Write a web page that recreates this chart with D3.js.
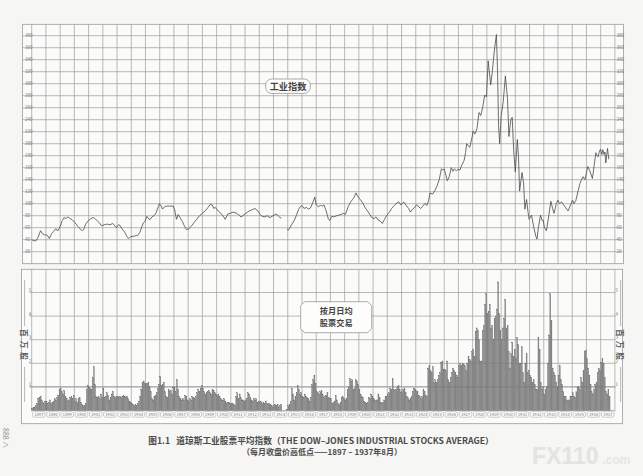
<!DOCTYPE html>
<html>
<head>
<meta charset="utf-8">
<script src="https://cdn.jsdelivr.net/npm/d3@7"></script>
<style>
body { margin: 0; background: #f6f6f4; }
svg { display: block; }
</style>
</head>
<body>
<div id="chart"></div>
<script>
var svgWidth = 643;
var svgHeight = 476;

// year labels along the bottom
var yearLabels = [1897, 1898, 1899, 1900, 1901, 1902, 1903, 1904, 1905, 1906, 1907, 1908, 1909, 1910,
  1911, 1912, 1913, 1914, 1915, 1916, 1917, 1918, 1919, 1920, 1921, 1922, 1923, 1924, 1925, 1926,
  1927, 1928, 1929, 1930, 1931, 1932, 1933, 1934, 1935, 1936, 1937];

var priceTicks = [20, 40, 60, 80, 100, 120, 140, 160, 180, 200, 220, 240, 260, 280, 300, 320, 340, 360, 380];
var volumeTicks = [1, 2, 3, 4, 5];

// monthly high / low points of the industrial average (decimal year, index value)
var indexDates = [
  1897.00, 1897.12, 1897.30, 1897.45, 1897.62, 1897.75, 1897.90, 1898.05, 1898.15, 1898.24,
  1898.40, 1898.55, 1898.68, 1898.85, 1899.00, 1899.15, 1899.28, 1899.40, 1899.52, 1899.65,
  1899.85, 1900.05, 1900.25, 1900.40, 1900.55, 1900.65, 1900.80, 1900.95, 1901.15, 1901.35,
  1901.48, 1901.60, 1901.75, 1901.92, 1902.10, 1902.30, 1902.50, 1902.70, 1902.85, 1902.95,
  1903.10, 1903.20, 1903.35, 1903.55, 1903.70, 1903.80, 1903.95, 1904.20, 1904.45, 1904.60,
  1904.75, 1904.85, 1904.95, 1905.10, 1905.20, 1905.30, 1905.45, 1905.60, 1905.75, 1905.90,
  1905.98, 1906.10, 1906.20, 1906.35, 1906.50, 1906.70, 1906.95, 1907.05, 1907.18, 1907.30,
  1907.45, 1907.60, 1907.75, 1907.88, 1908.05, 1908.20, 1908.40, 1908.60, 1908.80, 1909.00,
  1909.20, 1909.40, 1909.55, 1909.68, 1909.80, 1909.90, 1910.10, 1910.30, 1910.50, 1910.60,
  1910.80, 1910.95, 1911.15, 1911.40, 1911.55, 1911.70, 1911.85, 1912.05, 1912.30, 1912.50,
  1912.70, 1912.90, 1913.05, 1913.20, 1913.40, 1913.55, 1913.75, 1913.90, 1914.05, 1914.20,
  1914.35, 1914.45, 1914.55, 1914.75,
  1914.95, 1915.05, 1915.25, 1915.45, 1915.60, 1915.75, 1915.88, 1916.00, 1916.15, 1916.30,
  1916.45, 1916.60, 1916.80, 1916.90, 1917.00, 1917.15, 1917.30, 1917.45, 1917.55, 1917.70,
  1917.85, 1917.95, 1918.10, 1918.25, 1918.45, 1918.60, 1918.75, 1918.90, 1919.05, 1919.25,
  1919.40, 1919.55, 1919.65, 1919.80, 1919.90, 1920.10, 1920.30, 1920.45, 1920.60, 1920.75,
  1920.90, 1921.05, 1921.20, 1921.35, 1921.55, 1921.65, 1921.80, 1921.95, 1922.15, 1922.30,
  1922.50, 1922.65, 1922.80, 1922.95, 1923.15, 1923.30, 1923.50, 1923.62, 1923.75, 1923.90,
  1924.05, 1924.20, 1924.35, 1924.50, 1924.65, 1924.78, 1924.90, 1925.00, 1925.18, 1925.35,
  1925.50, 1925.65, 1925.80, 1925.90, 1926.00, 1926.12, 1926.22, 1926.35, 1926.50, 1926.62,
  1926.72, 1926.85, 1926.95, 1927.10, 1927.25, 1927.40, 1927.50, 1927.58, 1927.70, 1927.80,
  1927.95, 1928.03, 1928.15, 1928.30, 1928.45, 1928.57, 1928.70, 1928.85, 1928.97, 1929.09,
  1929.18, 1929.27, 1929.38, 1929.46, 1929.55, 1929.67, 1929.75, 1929.82, 1929.90, 1930.00,
  1930.15, 1930.30, 1930.45, 1930.55, 1930.68, 1930.78, 1930.88, 1931.00, 1931.14, 1931.22,
  1931.30, 1931.47, 1931.58, 1931.67, 1931.79, 1931.90, 1931.97, 1932.14, 1932.30, 1932.45,
  1932.52, 1932.62, 1932.77, 1932.88, 1932.95, 1933.05, 1933.19, 1933.35, 1933.50, 1933.62,
  1933.72, 1933.88, 1934.00, 1934.10, 1934.25, 1934.40, 1934.55, 1934.71, 1934.85, 1935.02,
  1935.12, 1935.25, 1935.40, 1935.55, 1935.62, 1935.76, 1935.90, 1936.00, 1936.10, 1936.25,
  1936.42, 1936.55, 1936.66, 1936.75, 1936.82, 1936.90, 1936.98, 1937.08, 1937.15, 1937.24,
  1937.30, 1937.36, 1937.48, 1937.57
];
var indexValues = [
  40, 38.5, 38, 44, 55, 50, 48, 48, 46, 42,
  50, 54, 58, 55, 62, 72, 77, 75, 78, 76,
  73, 68, 62, 58, 55, 57, 66, 71, 75, 77,
  74, 72, 68, 63, 65, 66, 65, 67, 63, 60,
  65, 64, 58, 52, 45, 42, 45, 46, 47, 52,
  62, 68, 70, 79, 76, 73, 78, 80, 85, 95,
  100, 96, 91, 95, 96, 96, 96, 90, 74, 82,
  76, 70, 62, 57, 58, 62, 68, 74, 80, 84,
  88, 94, 99, 98, 92, 94, 88, 84, 78, 74,
  83, 84, 86, 84, 82, 78, 80, 84, 88, 90,
  92, 88, 82, 79, 78, 80, 77, 79, 81, 83,
  79, 77, 76, null,
  58, 56, 64, 72, 80, 90, 95, 97, 92, 94,
  91, 93, 104, 111, 98, 95, 97, 96, 98, 88,
  75, 72, 79, 78, 80, 81, 82, 84, 82, 95,
  102, 107, 110, 118, 113, 107, 100, 93, 88, 83,
  77, 75, 78, 73, 70, 67, 74, 80, 86, 92,
  97, 101, 103, 98, 103, 98, 92, 86, 90, 93,
  98, 95, 92, 96, 100.5, 97, 105, 118, 116, 122,
  130, 140, 158, 156, 158, 147, 138, 145, 160, 154,
  158, 155, 157, 156, 165, 172, 185, 200, 196, 194,
  210, 221, 216, 225, 252, 247, 260, 281, 278, 338,
  318, 298, 320, 340, 360, 382, 320, 230, 200, 245,
  270, 313, 275, 212, 240, 244, 190, 153, 207, 180,
  121, 152, 135, 91, 107, 85, 74, 81, 60, 45,
  41, 60, 81, 72, 73, 60, 55, 80, 104, 92,
  84, 100, 106, 100, 103, 98, 93, 88, 96, 106,
  100, 105, 120, 134, 138, 145, 140, 152, 162, 154,
  142, 165, 185, 180, 178, 186, 191, 182, 190, 182,
  186, 168, 192, 174
];

// average daily shares traded, millions, one value per month from Jan 1897
var monthlyVolume = [
  0.10, 0.12, 0.15, 0.20, 0.30, 0.50, 0.55, 0.60, 0.45, 0.35, 0.30, 0.40, // 1897
  0.40, 0.30, 0.35, 0.45, 0.30, 0.35, 0.40, 0.50, 0.45, 0.55, 0.65, 0.90, // 1898
  0.95, 0.80, 0.70, 0.85, 0.60, 0.50, 0.40, 0.45, 0.55, 0.60, 0.50, 0.65, // 1899
  0.40, 0.50, 0.35, 0.50, 0.55, 0.35, 0.25, 0.20, 0.20, 0.30, 0.90, 1.05, // 1900
  1.00, 0.95, 0.90, 1.40, 1.85, 1.10, 0.60, 0.55, 0.60, 0.50, 0.70, 0.55, // 1901
  0.95, 0.55, 0.60, 0.75, 0.65, 0.45, 0.55, 0.70, 0.80, 0.60, 0.55, 0.60, // 1902
  0.60, 0.55, 0.60, 0.55, 0.60, 0.65, 0.60, 0.55, 0.60, 0.50, 0.40, 0.35, // 1903
  0.30, 0.25, 0.20, 0.25, 0.20, 0.30, 0.40, 0.60, 0.90, 1.20, 1.25, 1.15, // 1904
  1.10, 1.15, 1.20, 1.00, 0.80, 0.50, 0.45, 0.60, 0.65, 0.75, 0.95, 1.10, // 1905
  1.45, 1.05, 1.10, 1.20, 0.80, 0.60, 0.55, 0.90, 0.80, 0.85, 0.70, 1.00, // 1906
  1.00, 0.80, 1.30, 0.90, 0.60, 0.50, 0.45, 0.50, 0.45, 0.65, 0.60, 0.45, // 1907
  0.40, 0.50, 0.45, 0.60, 0.55, 0.50, 0.60, 0.75, 0.90, 0.80, 0.95, 1.05, // 1908
  0.95, 0.80, 0.70, 0.75, 0.80, 0.85, 0.75, 0.70, 0.90, 0.85, 0.75, 0.70, // 1909
  0.65, 0.70, 0.60, 0.50, 0.45, 0.45, 0.50, 0.40, 0.30, 0.35, 0.35, 0.30, // 1910
  0.30, 0.30, 0.25, 0.20, 0.60, 0.75, 0.50, 0.70, 0.55, 0.45, 0.45, 0.40, // 1911
  0.45, 0.50, 0.75, 0.70, 0.55, 0.45, 0.40, 0.50, 0.45, 0.50, 0.35, 0.40, // 1912
  0.35, 0.40, 0.30, 0.35, 0.30, 0.40, 0.30, 0.25, 0.30, 0.25, 0.20, 0.15, // 1913
  0.22, 0.25, 0.20, 0.25, 0.15, 0.20, 0.25, 0.00, 0.00, 0.00, 0.00, 0.05, // 1914
  0.20, 0.25, 0.40, 0.95, 0.70, 0.45, 0.60, 0.75, 1.05, 0.90, 0.70, 0.75, // 1915
  0.60, 0.55, 0.70, 0.60, 0.55, 0.50, 0.40, 0.55, 1.10, 1.30, 1.50, 1.15, // 1916
  0.80, 0.75, 0.70, 0.80, 0.85, 0.70, 0.55, 0.60, 0.65, 0.75, 0.55, 0.50, // 1917
  0.50, 0.30, 0.35, 0.40, 0.65, 0.45, 0.30, 0.25, 0.35, 0.55, 0.60, 0.50, // 1918
  0.45, 0.50, 0.90, 1.00, 1.35, 1.25, 1.30, 0.90, 0.95, 1.30, 1.25, 1.10, // 1919
  0.90, 0.70, 0.60, 0.55, 0.40, 0.35, 0.30, 0.35, 0.55, 0.50, 0.70, 0.60, // 1920
  0.50, 0.45, 0.40, 0.45, 0.70, 0.55, 0.35, 0.30, 0.35, 0.45, 0.60, 0.60, // 1921
  0.70, 0.75, 0.95, 0.90, 1.35, 0.90, 0.85, 0.90, 1.00, 1.05, 0.90, 0.75, // 1922
  0.80, 0.90, 0.95, 0.75, 0.60, 0.55, 0.45, 0.50, 0.60, 0.80, 0.95, 0.90, // 1923
  0.85, 0.80, 0.65, 0.60, 0.50, 0.60, 0.90, 0.80, 0.65, 0.60, 1.80, 1.90, // 1924
  1.70, 1.60, 1.85, 1.20, 1.30, 1.20, 1.30, 1.50, 1.60, 2.05, 2.10, 1.75, // 1925
  1.75, 1.70, 2.10, 1.30, 1.20, 1.40, 1.60, 1.80, 1.70, 1.60, 1.50, 1.40, // 1926
  1.90, 2.00, 1.90, 2.00, 1.95, 1.90, 1.70, 2.00, 2.30, 2.15, 2.10, 2.50, // 1927
  2.60, 2.30, 3.35, 3.50, 3.40, 3.00, 2.10, 2.10, 3.40, 3.60, 4.50, 4.95, // 1928
  4.10, 4.20, 4.50, 3.50, 3.60, 3.00, 3.90, 4.00, 4.30, 5.45, 4.10, 3.40, // 1929
  3.00, 3.50, 3.90, 4.70, 3.50, 3.60, 2.50, 1.80, 2.40, 2.90, 2.30, 2.60, // 1930
  2.20, 3.10, 2.80, 2.00, 2.00, 2.70, 1.60, 1.20, 2.00, 2.40, 1.60, 1.70, // 1931
  1.50, 1.40, 1.20, 1.30, 1.10, 0.90, 0.90, 3.10, 2.60, 1.20, 0.90, 1.00, // 1932
  0.70, 0.90, 1.00, 2.00, 3.20, 4.95, 3.80, 1.80, 1.60, 1.50, 1.20, 1.00, // 1933
  1.50, 1.90, 1.30, 1.10, 0.80, 0.60, 0.60, 0.45, 0.40, 0.45, 0.60, 0.60, // 1934
  0.75, 0.60, 0.55, 0.80, 1.00, 1.00, 0.90, 1.40, 1.20, 1.70, 2.50, 2.55, // 1935
  2.20, 1.80, 1.50, 1.10, 0.80, 0.70, 0.90, 1.10, 1.20, 1.60, 1.80, 1.70, // 1936
  2.05, 2.20, 2.00, 1.40, 0.80, 0.70, 0.90, 0.60                          // 1937
];

var svg = d3.select("#chart")
  .append("svg")
  .attr("width", svgWidth)
  .attr("height", svgHeight)
  .style("font-family", "'Noto Sans CJK SC', 'Noto Sans', sans-serif");

var frameLeft = 22.5, frameRight = 623.5;
var top1 = 24.3, bottom1 = 263.7;
var top2 = 269.3, bottom2 = 423.7;
var gridColor = "#9c9c9c";

var x = d3.scaleLinear().domain([1897, 1938]).range([31.7, 614.9]);
var yPrice = d3.scaleLinear().domain([0, 400]).range([bottom1, 23.7]);
var yVol = d3.scaleLinear().domain([0, 6]).range([410.5, 268.9]);

var boundaries = yearLabels.concat([1938]);

// ---------- upper panel : index ----------
var upper = svg.append("g");
upper.append("rect")
  .attr("x", frameLeft).attr("y", top1)
  .attr("width", frameRight - frameLeft).attr("height", bottom1 - top1)
  .attr("fill", "#fbfbfa").attr("stroke", gridColor).attr("stroke-width", 0.8);

upper.selectAll(".hgrid")
  .data(priceTicks)
  .enter().append("line")
  .attr("x1", frameLeft).attr("x2", frameRight)
  .attr("y1", d => yPrice(d)).attr("y2", d => yPrice(d))
  .attr("stroke", gridColor).attr("stroke-width", 0.7);

upper.selectAll(".vgrid")
  .data(boundaries)
  .enter().append("line")
  .attr("x1", d => x(d)).attr("x2", d => x(d))
  .attr("y1", top1).attr("y2", bottom1)
  .attr("stroke", gridColor).attr("stroke-width", 0.7);

upper.selectAll(".lab-l")
  .data(priceTicks)
  .enter().append("text")
  .attr("x", 25).attr("y", d => yPrice(d) + 1.5)
  .attr("font-size", 4.6).attr("fill", "#777")
  .text(d => d);

upper.selectAll(".lab-r")
  .data(priceTicks)
  .enter().append("text")
  .attr("x", 616.5).attr("y", d => yPrice(d) + 1.5)
  .attr("font-size", 4.6).attr("fill", "#777")
  .text(d => d);

var indexPoints = indexDates.map((d, i) => ({ t: d, v: indexValues[i] }));
var line = d3.line()
  .defined(d => d.v !== null)
  .x(d => x(d.t))
  .y(d => yPrice(d.v));

upper.append("path")
  .datum(indexPoints)
  .attr("d", line)
  .attr("fill", "none")
  .attr("stroke", "#4a4a4a")
  .attr("stroke-width", 0.8)
  .attr("stroke-linejoin", "round");

// label 工业指数
var lab1 = upper.append("g").attr("transform", "translate(288,86.2)");
lab1.append("rect")
  .attr("x", -22.3).attr("y", -7.2).attr("width", 44.6).attr("height", 14.4)
  .attr("rx", 6).attr("fill", "#fdfdfc").attr("stroke", "#888").attr("stroke-width", 0.7);
lab1.append("text")
  .attr("text-anchor", "middle").attr("y", 3.3)
  .attr("font-size", 9.2).attr("font-weight", "bold").attr("fill", "#444")
  .text("工业指数");

// ---------- lower panel : volume ----------
var lower = svg.append("g");
lower.append("rect")
  .attr("x", frameLeft - 1).attr("y", top2)
  .attr("width", frameRight - frameLeft).attr("height", bottom2 - top2)
  .attr("fill", "#fbfbfa").attr("stroke", gridColor).attr("stroke-width", 0.8);

lower.selectAll(".hgrid")
  .data(volumeTicks)
  .enter().append("line")
  .attr("x1", 29.5).attr("x2", 615.5)
  .attr("y1", d => yVol(d)).attr("y2", d => yVol(d))
  .attr("stroke", d => d === 1 ? "#777" : gridColor)
  .attr("stroke-width", d => d === 1 ? 0.9 : 0.7);

lower.selectAll(".vgrid")
  .data(boundaries)
  .enter().append("line")
  .attr("x1", d => x(d)).attr("x2", d => x(d))
  .attr("y1", top2).attr("y2", 411.5)
  .attr("stroke", gridColor).attr("stroke-width", 0.7);

var monthW = (x(1898) - x(1897)) / 12;
lower.selectAll(".bar")
  .data(monthlyVolume)
  .enter().append("rect")
  .attr("x", (d, i) => x(1897 + i / 12) + monthW * 0.08)
  .attr("width", monthW * 0.84)
  .attr("y", d => yVol(d))
  .attr("height", d => yVol(0) - yVol(d))
  .attr("fill", "#8a8a8a")
  .attr("stroke", "#666")
  .attr("stroke-width", 0.25);

lower.append("line")
  .attr("x1", x(1897)).attr("x2", x(1938))
  .attr("y1", yVol(0)).attr("y2", yVol(0))
  .attr("stroke", "#888").attr("stroke-width", 0.6);

lower.selectAll(".vlab-l")
  .data(volumeTicks)
  .enter().append("text")
  .attr("x", 28.8).attr("y", d => yVol(d) - 0.5)
  .attr("font-size", 4.4).attr("fill", "#777")
  .text(d => d);

lower.selectAll(".vlab-r")
  .data(volumeTicks)
  .enter().append("text")
  .attr("x", 615.4).attr("y", d => yVol(d) - 0.5)
  .attr("font-size", 4.4).attr("fill", "#777")
  .text(d => d);

// year boxes
var yearBox = lower.selectAll(".yr")
  .data(yearLabels)
  .enter().append("g");
yearBox.append("rect")
  .attr("x", d => x(d) + 0.8)
  .attr("width", d => x(d + 1) - x(d) - 1.6)
  .attr("y", 411.6).attr("height", 5.6).attr("rx", 2)
  .attr("fill", "#fdfdfc").attr("stroke", "#999").attr("stroke-width", 0.5);
yearBox.append("text")
  .attr("x", d => x(d + 0.5)).attr("y", 415.9)
  .attr("text-anchor", "middle")
  .attr("font-size", 4.2).attr("fill", "#777")
  .text(d => d);

// 百万股 side labels, set sideways like the original
function unitLabel(cx) {
  var g = lower.append("g");
  g.append("line").attr("x1", cx).attr("x2", cx).attr("y1", 280).attr("y2", 326)
    .attr("stroke", "#888").attr("stroke-width", 0.6);
  g.append("line").attr("x1", cx).attr("x2", cx).attr("y1", 367).attr("y2", 402)
    .attr("stroke", "#888").attr("stroke-width", 0.6);
  g.append("text")
    .attr("transform", "translate(" + cx + ",346.5) rotate(90)")
    .attr("text-anchor", "middle")
    .attr("dominant-baseline", "central")
    .attr("letter-spacing", 4)
    .attr("font-size", 7.6).attr("font-weight", "bold").attr("fill", "#555")
    .text("百万股");
}
unitLabel(24.6);
unitLabel(620.6);

// label 按月日均 / 股票交易 in an octagonal box
var lab2 = lower.append("g").attr("transform", "translate(336.2,317.2)");
lab2.append("path")
  .attr("d", "M-31.5,-15.5 L31.5,-15.5 L35.5,-11.5 L35.5,11.5 L31.5,15.5 L-31.5,15.5 L-35.5,11.5 L-35.5,-11.5 Z")
  .attr("fill", "#fdfdfc").attr("stroke", "#888").attr("stroke-width", 0.7);
lab2.append("text")
  .attr("text-anchor", "middle").attr("y", -3.0)
  .attr("font-size", 8.2).attr("font-weight", "bold").attr("fill", "#444")
  .text("按月日均");
lab2.append("text")
  .attr("text-anchor", "middle").attr("y", 9.2)
  .attr("font-size", 8.2).attr("font-weight", "bold").attr("fill", "#444")
  .text("股票交易");

// ---------- caption ----------
svg.append("text")
  .attr("x", 321).attr("y", 443.5)
  .attr("text-anchor", "middle")
  .attr("font-size", 8.7).attr("font-weight", "bold").attr("fill", "#4a4a4a")
  .text("图1.1\u2002 道琼斯工业股票平均指数（THE DOW–JONES INDUSTRIAL STOCKS AVERAGE）");
svg.append("text")
  .attr("x", 322).attr("y", 454.5)
  .attr("text-anchor", "middle")
  .attr("font-size", 8.0).attr("font-weight", "bold").attr("fill", "#4a4a4a")
  .text("（每月收盘价高低点——1897 – 1937年8月）");

// page number & watermark
svg.append("text")
  .attr("transform", "translate(3,428) rotate(90)")
  .attr("font-size", 7).attr("fill", "#999")
  .text("888 ∧");
svg.append("text")
  .attr("x", 532).attr("y", 463.5)
  .attr("font-family", "'Liberation Sans', sans-serif")
  .attr("font-size", 23).attr("font-weight", "bold").attr("fill", "#e3e3e1")
  .text("FX110");
svg.append("text")
  .attr("x", 602.5).attr("y", 463.5)
  .attr("font-family", "'Liberation Sans', sans-serif")
  .attr("font-size", 12).attr("font-weight", "bold").attr("fill", "#e6e6e4")
  .text(".com");
</script>
</body>
</html>
